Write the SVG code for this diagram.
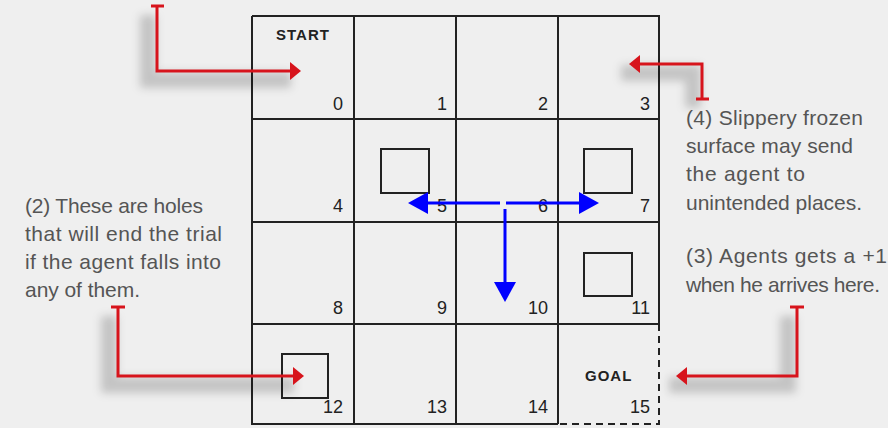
<svg xmlns="http://www.w3.org/2000/svg" width="888" height="428" viewBox="0 0 888 428">
  <style>
    .grid { stroke: #222; stroke-width: 2; fill: none; }
    .dash { stroke: #222; stroke-width: 2; fill: none; stroke-dasharray: 7 5; }
    .hole { stroke: #222; stroke-width: 2; fill: none; }
    .num { font-family: "Liberation Sans", Arial, sans-serif; font-size: 18px; fill: #222; text-anchor: end; }
    .lbl { font-family: "Liberation Sans", Arial, sans-serif; font-size: 15px; font-weight: bold; fill: #222; letter-spacing: 1px; }
    .note { font-family: "Liberation Sans", Arial, sans-serif; font-size: 21px; fill: #555; }
    .red { stroke: #d7141c; stroke-width: 3; fill: none; }
    .blue { stroke: #0000ff; stroke-width: 3; fill: none; }
    .shadow { stroke: #000; stroke-opacity: 0.18; stroke-width: 16; fill: none; }
  </style>
  <defs>
    <marker id="redHead" markerUnits="userSpaceOnUse" viewBox="0 -9 11 18" refX="0" refY="0" markerWidth="11" markerHeight="18" orient="auto">
      <path d="M0,-9 L11,0 L0,9 z" fill="#d7141c"/>
    </marker>
    <marker id="blueHead" markerUnits="userSpaceOnUse" viewBox="0 -11 20 22" refX="0" refY="0" markerWidth="20" markerHeight="22" orient="auto">
      <path d="M0,-11 L20,0 L0,11 z" fill="#0000ff"/>
    </marker>
    <filter id="blur" x="-20%" y="-20%" width="140%" height="140%">
      <feGaussianBlur stdDeviation="4"/>
    </filter>
  </defs>
  <rect width="888" height="428" fill="#efefef"/>

  <g id="grid">
    <path class="grid" d="M252,16 H659 V324 M252,16 V424 H558 M354,16 V424 M456,16 V424 M558,16 V424 M252,119 H659 M252,222 H659 M252,324 H659"/>
    <path class="dash" d="M659,324 V424 H558"/>
  </g>

  <g id="cell0"><text class="lbl" x="276" y="40">START</text><text class="num" x="343" y="110">0</text></g>
  <g id="cell1"><text class="num" x="447" y="110">1</text></g>
  <g id="cell2"><text class="num" x="548" y="110">2</text></g>
  <g id="cell3"><text class="num" x="650" y="110">3</text></g>
  <g id="cell4"><text class="num" x="343" y="212">4</text></g>
  <g id="cell5"><rect class="hole" x="381" y="149" width="48" height="44"/><text class="num" x="447" y="212">5</text></g>
  <g id="cell6"><text class="num" x="548" y="212">6</text></g>
  <g id="cell7"><rect class="hole" x="584" y="149" width="48" height="44"/><text class="num" x="650" y="212">7</text></g>
  <g id="cell8"><text class="num" x="343" y="314">8</text></g>
  <g id="cell9"><text class="num" x="447" y="314">9</text></g>
  <g id="cell10"><text class="num" x="548" y="314">10</text></g>
  <g id="cell11"><rect class="hole" x="584" y="253" width="48" height="43"/><text class="num" x="650" y="314">11</text></g>
  <g id="cell12"><rect class="hole" x="282" y="354" width="46" height="44"/><text class="num" x="343" y="413">12</text></g>
  <g id="cell13"><text class="num" x="447" y="413">13</text></g>
  <g id="cell14"><text class="num" x="548" y="413">14</text></g>
  <g id="cell15"><text class="lbl" x="585" y="381">GOAL</text><text class="num" x="650" y="413">15</text></g>

  <g id="note2">
    <text class="note" x="25" y="213" textLength="178">(2) These are holes</text>
    <text class="note" x="25" y="241" textLength="197">that will end the trial</text>
    <text class="note" x="25" y="269" textLength="196">if the agent falls into</text>
    <text class="note" x="25" y="297" textLength="115">any of them.</text>
  </g>
  <g id="note4">
    <text class="note" x="686" y="125" textLength="177">(4) Slippery frozen</text>
    <text class="note" x="686" y="153" textLength="167">surface may send</text>
    <text class="note" x="686" y="181" textLength="119">the agent to</text>
    <text class="note" x="686" y="210" textLength="176">unintended places.</text>
  </g>
  <g id="note3">
    <text class="note" x="686" y="263" textLength="201">(3) Agents gets a +1</text>
    <text class="note" x="686" y="292" textLength="194">when he arrives here.</text>
  </g>

  <g id="connectors">
    <g filter="url(#blur)" transform="translate(-9,9)">
      <path class="shadow" d="M157,6 V71 H300"/>
      <path class="shadow" d="M702,99 V64 H630"/>
      <path class="shadow" d="M118,307 V376 H303"/>
      <path class="shadow" d="M797,307 V376 H678"/>
    </g>
    <path class="red" d="M151,6 H164 M157,6 V71 H290" marker-end="url(#redHead)"/>
    <path class="red" d="M696,99 H709 M702,99 V64 H640" marker-end="url(#redHead)"/>
    <path class="red" d="M111,307 H125 M118,307 V376 H293" marker-end="url(#redHead)"/>
    <path class="red" d="M790,307 H804 M797,307 V376 H687" marker-end="url(#redHead)"/>
    <path class="blue" d="M500,203 H428" marker-end="url(#blueHead)"/>
    <path class="blue" d="M506,203 H579" marker-end="url(#blueHead)"/>
    <path class="blue" d="M505,209 V282" marker-end="url(#blueHead)"/>
  </g>
</svg>
